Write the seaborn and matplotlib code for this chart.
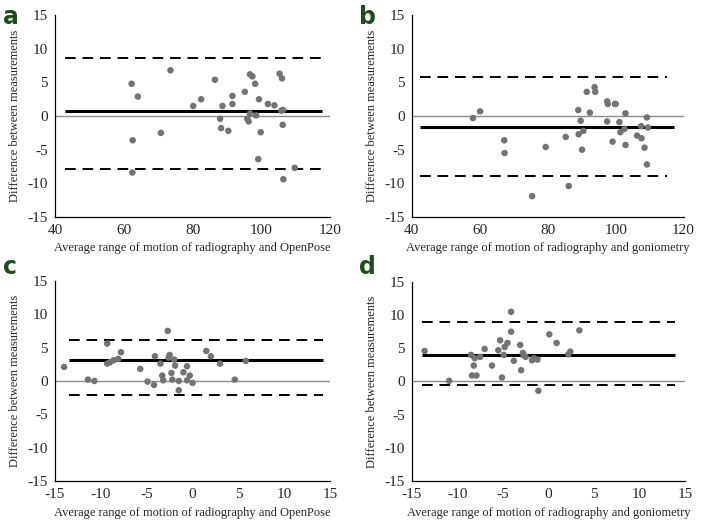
import numpy as np
import pandas as pd
import matplotlib
matplotlib.use("Agg")
import matplotlib.pyplot as plt
import seaborn as sns

# Bland-Altman data
a_x = [62.3, 64.1, 73.6, 62.6, 62.5, 70.8, 80.2, 82.5, 86.5, 88.0, 88.3, 88.7, 90.4, 91.6, 91.6,
       95.2, 96.7, 97.4, 98.2, 95.9, 96.3, 96.7, 98.5, 99.3, 99.1, 99.8, 101.9, 103.8, 105.3,
       106.0, 105.8, 106.3, 106.2, 106.4, 109.7]
a_y = [4.8, 2.9, 6.8, -3.6, -8.4, -2.5, 1.5, 2.5, 5.4, -0.4, -1.8, 1.5, -2.2, 3.0, 1.8,
       3.6, 6.2, 5.9, 4.8, -0.4, -0.8, 0.4, 0.1, 2.5, -6.4, -2.4, 1.8, 1.6, 6.3,
       5.6, 0.8, 0.9, -1.3, -9.4, -7.7]

b_x = [58.0, 60.1, 67.2, 67.3, 79.4, 75.4, 86.2, 85.3, 89.0, 89.1, 89.7, 90.1, 90.5, 91.5,
       92.4, 93.8, 94.0, 97.5, 97.7, 97.5, 99.8, 100.0, 99.1, 101.1, 101.4, 102.6, 102.9,
       102.9, 106.3, 107.6, 107.5, 108.5, 109.2, 109.5, 109.2]
b_y = [-0.3, 0.7, -3.6, -5.5, -4.6, -11.9, -10.4, -3.1, 0.9, -2.7, -0.7, -5.0, -2.2, 3.6,
       0.5, 4.3, 3.6, 2.2, 1.8, -0.8, 1.8, 1.8, -3.8, -0.9, -2.4, -1.9, 0.4,
       -4.3, -2.9, -3.3, -1.5, -4.7, -0.2, -1.7, -7.2]

c_x = [-14.0, -11.4, -10.7, -9.3, -9.3, -9.0, -8.6, -8.1, -7.8, -5.7, -4.9, -4.2, -4.1, -3.5,
       -3.3, -3.2, -2.7, -2.5, -2.6, -2.3, -2.2, -2.0, -1.9, -1.5, -1.5, -1.0, -0.6, -0.6,
       -0.3, 0.0, 1.5, 2.0, 3.0, 4.6, 5.8]
c_y = [2.1, 0.2, 0.0, 5.6, 2.6, 2.8, 3.1, 3.3, 4.3, 1.8, -0.1, -0.6, 3.7, 2.6,
       0.8, 0.1, 7.5, 3.9, 3.5, 1.2, 0.2, 3.2, 2.3, 0.0, -1.4, 1.3, 2.2, 0.1,
       0.8, -0.3, 4.5, 3.7, 2.6, 0.2, 3.0]

d_x = [-13.6, -10.9, -8.5, -8.4, -8.2, -8.1, -7.9, -7.5, -7.0, -6.2, -5.5, -5.3, -5.1, -4.9,
       -4.8, -4.5, -4.1, -4.1, -3.8, -3.1, -3.0, -2.8, -2.7, -2.5, -1.8, -1.6, -1.2, -1.1,
       0.1, 0.9, 2.2, 2.4, 3.4]
d_y = [4.6, 0.1, 4.0, 0.9, 2.4, 3.5, 0.9, 3.7, 4.9, 2.4, 4.7, 6.2, 0.6, 4.0,
       5.2, 5.8, 10.5, 7.5, 3.1, 5.5, 1.7, 4.3, 3.9, 3.7, 3.2, 3.5, 3.3, -1.4,
       7.1, 5.8, 4.1, 4.5, 7.7]

# mean difference and limits of agreement (lower, upper)
means = [0.7, -1.7, 3.2, 4.0]
limits = [(-7.8, 8.6), (-8.9, 5.8), (-2.1, 6.2), (-0.6, 8.9)]
line_spans = [(43, 117.6), (42.5, 117.3), (-13.5, 14.2), (-13.9, 13.9)]
dash_spans = [(43, 117.6), (42.5, 115), (-13.5, 14.2), (-13.9, 13.9)]
xlims = [(40, 120), (40, 120), (-15, 15), (-15, 15)]
xlabels = ["Average range of motion of radiography and OpenPose",
           "Average range of motion of radiography and goniometry",
           "Average range of motion of radiography and OpenPose",
           "Average range of motion of radiography and goniometry"]
letters = ["a", "b", "c", "d"]
xs = [a_x, b_x, c_x, d_x]
ys = [a_y, b_y, c_y, d_y]

sns.set_style("white")
plt.rcParams["font.family"] = ["Liberation Serif", "DejaVu Serif"]
plt.rcParams["axes.unicode_minus"] = False

fig = plt.figure(figsize=(7.04, 5.24), dpi=100)
positions = [[0.078, 0.586, 0.391, 0.385],
             [0.585, 0.586, 0.386, 0.385],
             [0.078, 0.082, 0.391, 0.382],
             [0.585, 0.082, 0.388, 0.380]]
letter_pos = [(0.004, 0.955), (0.51, 0.955), (0.004, 0.478), (0.51, 0.478)]

for i in range(4):
    ax = fig.add_axes(positions[i])
    df = pd.DataFrame({"x": xs[i], "y": ys[i]})
    ax.axhline(0, color="#8c8c8c", lw=1.0, zorder=1)
    sns.scatterplot(data=df, x="x", y="y", ax=ax, color="#737373", s=22,
                    edgecolor="none", zorder=3)
    ax.hlines(means[i], *line_spans[i], color="black", lw=2.2, zorder=2)
    for lim in limits[i]:
        ax.hlines(lim, *dash_spans[i], color="black", lw=1.4,
                  linestyles=(0, (5.5, 3.5)), zorder=2)
    ax.set_xlim(*xlims[i])
    ax.set_ylim(-15, 15)
    ax.set_xticks(np.arange(xlims[i][0], xlims[i][1] + 1, 20 if i < 2 else 5))
    ax.set_yticks(np.arange(-15, 16, 5))
    ax.tick_params(length=0, labelsize=11)
    ax.tick_params(axis="x", pad=5)
    ax.tick_params(axis="y", pad=5)
    for s in ["top", "right"]:
        ax.spines[s].set_visible(False)
    for s in ["left", "bottom"]:
        ax.spines[s].set_color("black")
        ax.spines[s].set_linewidth(0.9)
    ax.set_xlabel(xlabels[i], fontsize=9, labelpad=4)
    ax.set_ylabel("Difference between measurements", fontsize=9, labelpad=5)
    fig.text(*letter_pos[i], letters[i], fontsize=17, fontweight="bold",
             color="#1f4d1f", family="DejaVu Sans")

fig.savefig("out.png", dpi=100)
